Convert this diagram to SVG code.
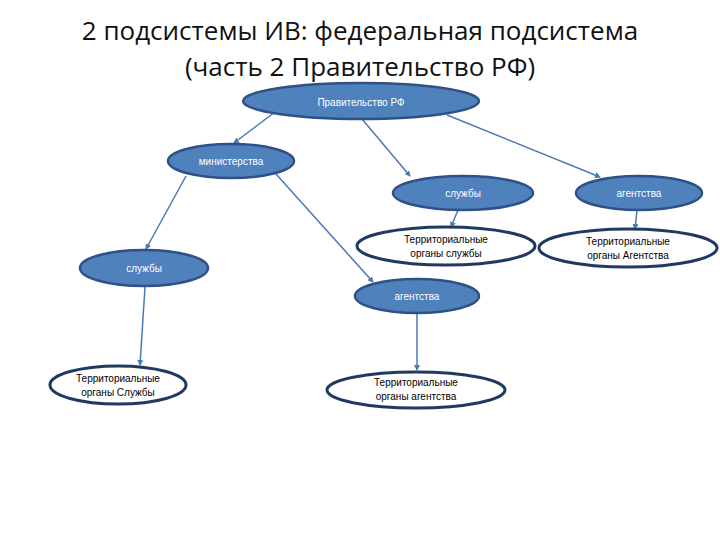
<svg xmlns="http://www.w3.org/2000/svg" width="720" height="540" viewBox="0 0 720 540">
<style>
.t{font-family:"Open Sans","Liberation Sans",sans-serif;fill:#111;text-anchor:middle}
.b{fill:#4f81bd;stroke:#2f5185;stroke-width:2.5}
.w{fill:#fff;stroke:#1f3a60;stroke-width:3}
.bl{font-family:"Liberation Sans",sans-serif;font-size:10px;fill:#fff;text-anchor:middle}
.wl{font-family:"Liberation Sans",sans-serif;font-size:10px;fill:#000;text-anchor:middle}
.c line{stroke:#4a7ab5;stroke-width:1.5;marker-end:url(#a)}
</style>
<defs><marker id="a" markerWidth="6" markerHeight="6" refX="5" refY="3" orient="auto" markerUnits="userSpaceOnUse"><path d="M0,0L6,3L0,6z" fill="#4a7ab5"/></marker></defs>
<rect width="720" height="540" fill="#fff"/>
<text class="t" x="360" y="40" font-size="26">2 подсистемы ИВ: федеральная подсистема</text>
<text class="t" x="360" y="76" font-size="26">(часть 2 Правительство РФ)</text>
<g class="c">
<line x1="275" y1="112" x2="234" y2="143"/>
<line x1="362" y1="119" x2="410" y2="176"/>
<line x1="447" y1="115" x2="600" y2="177"/>
<line x1="186" y1="176" x2="146" y2="249"/>
<line x1="276" y1="174" x2="373" y2="282"/>
<line x1="458" y1="210" x2="451" y2="227"/>
<line x1="637" y1="210" x2="635" y2="229"/>
<line x1="145" y1="287" x2="140" y2="365"/>
<line x1="417" y1="313" x2="417" y2="370"/>
</g>
<g id="gov"><ellipse class="b" cx="361" cy="101" rx="118" ry="18"/><text class="bl" x="361" y="106" font-size="14">Правительство РФ</text></g>
<g id="min"><ellipse class="b" cx="231" cy="161" rx="63" ry="17"/><text class="bl" x="231" y="165">министерства</text></g>
<g id="sl1"><ellipse class="b" cx="463" cy="193" rx="70" ry="17"/><text class="bl" x="463" y="197">службы</text></g>
<g id="ag1"><ellipse class="b" cx="639" cy="193" rx="63" ry="17"/><text class="bl" x="639" y="197">агентства</text></g>
<g id="ts1"><ellipse class="w" cx="446" cy="246" rx="89" ry="19"/><text class="wl" x="446" y="243">Территориальные</text><text class="wl" x="446" y="257">органы службы</text></g>
<g id="ta1"><ellipse class="w" cx="628" cy="248" rx="89" ry="19"/><text class="wl" x="628" y="245">Территориальные</text><text class="wl" x="628" y="259">органы Агентства</text></g>
<g id="sl2"><ellipse class="b" cx="144" cy="268" rx="64" ry="18"/><text class="bl" x="144" y="272">службы</text></g>
<g id="ag2"><ellipse class="b" cx="417" cy="296" rx="62" ry="17"/><text class="bl" x="417" y="300">агентства</text></g>
<g id="ts2"><ellipse class="w" cx="118" cy="385" rx="68" ry="19"/><text class="wl" x="118" y="382">Территориальные</text><text class="wl" x="118" y="396">органы Службы</text></g>
<g id="ta2"><ellipse class="w" cx="416" cy="390" rx="89" ry="18"/><text class="wl" x="416" y="386">Территориальные</text><text class="wl" x="416" y="400">органы агентства</text></g>
</svg>
